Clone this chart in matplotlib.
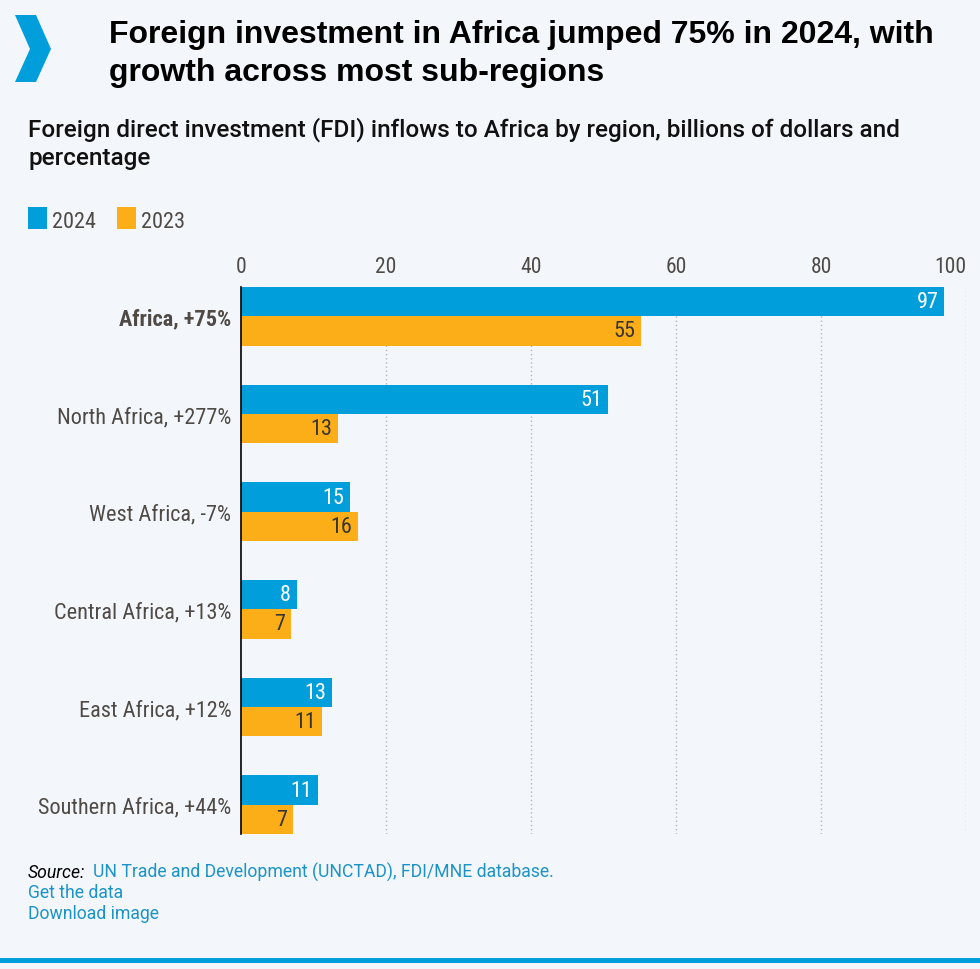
import matplotlib.pyplot as plt
from matplotlib.patches import Polygon
import numpy as np

regions = ["Africa, +75%", "North Africa, +277%", "West Africa, -7%",
           "Central Africa, +13%", "East Africa, +12%", "Southern Africa, +44%"]
fdi_2024 = [97.0, 50.6, 15.0, 7.7, 12.6, 10.6]
fdi_2023 = [55.2, 13.4, 16.1, 6.9, 11.2, 7.2]
xticks = [0, 20, 40, 60, 80, 100]

BLUE = "#009edb"
ORANGE = "#fbae17"
BG = "#f3f7fb"
GREY = "#4f4a46"

W, H = 980, 970
narrow = ["Roboto Condensed", "Archivo Narrow", "DejaVu Sans"]
head = ["Roboto", "DejaVu Sans"]
title_font = ["Liberation Sans", "DejaVu Sans"]

fig = plt.figure(figsize=(W / 100, H / 100), dpi=100, facecolor=BG)


def fx(x):
    return x / W


def fy(y):
    return 1 - y / H


# chevron logo
chev = [(15, 16), (36, 16), (51, 50), (36, 83), (15, 83), (30, 50)]
fig.patches.append(Polygon([(fx(a), fy(b)) for a, b in chev], closed=True,
                           transform=fig.transFigure, facecolor=BLUE, edgecolor="none"))

fig.text(fx(109), fy(43), "Foreign investment in Africa jumped 75% in 2024, with",
         fontsize=23, fontweight="bold", family=title_font, color="black", va="baseline")
fig.text(fx(109), fy(81), "growth across most sub-regions",
         fontsize=23, fontweight="bold", family=title_font, color="black", va="baseline")
fig.text(fx(28), fy(137), "Foreign direct investment (FDI) inflows to Africa by region, billions of dollars and",
         fontsize=17.5, fontweight=500, family=head, color="#111111", va="baseline")
fig.text(fx(28), fy(165), "percentage",
         fontsize=17.5, fontweight=500, family=head, color="#111111", va="baseline")

# legend
for x0, col, lab in [(28, BLUE, "2024"), (117, ORANGE, "2023")]:
    fig.patches.append(plt.Rectangle((fx(x0), fy(230)), fx(19), 22 / H,
                                     transform=fig.transFigure, facecolor=col, edgecolor="none"))
    fig.text(fx(x0 + 24), fy(228), lab, fontsize=16, family=narrow, color=GREY, va="baseline")

# main axes
ax = fig.add_axes([fx(241), fy(835), fx(966) - fx(241), (835 - 288) / H])
ax.set_facecolor(BG)
y = np.arange(len(regions))
h = 0.3
ax.barh(y - h / 2, fdi_2024, height=h, color=BLUE, zorder=2)
ax.barh(y + h / 2, fdi_2023, height=h, color=ORANGE, zorder=2)
for i in range(len(regions)):
    ax.text(fdi_2024[i] - 0.8, y[i] - h / 2, f"{fdi_2024[i]:.0f}", ha="right", va="center",
            fontsize=16, family=narrow, color="white", zorder=3)
    ax.text(fdi_2023[i] - 0.8, y[i] + h / 2, f"{fdi_2023[i]:.0f}", ha="right", va="center",
            fontsize=16, family=narrow, color="#3a3530", zorder=3)

ax.set_xlim(0, 100)
ax.set_ylim(len(regions) - 1 + h, -h)
ax.set_xticks(xticks)
ax.xaxis.tick_top()
ax.tick_params(axis="x", length=0, pad=7, labelsize=15.5, labelcolor=GREY)
for lab in ax.get_xticklabels():
    lab.set_family(narrow)
ax.get_xticklabels()[-1].set_horizontalalignment("right")
ax.set_yticks(y)
ax.set_yticklabels(regions)
ax.tick_params(axis="y", length=0, pad=7, labelsize=16, labelcolor=GREY)
for i, lab in enumerate(ax.get_yticklabels()):
    lab.set_family(narrow)
    if i == 0:
        lab.set_fontweight("bold")
for xv in xticks[1:]:
    ax.axvline(xv, color="#b5b5b5", lw=1, ls=(0, (1, 2)), zorder=1)
for s in ["top", "right", "bottom"]:
    ax.spines[s].set_visible(False)
ax.spines["left"].set_color("black")
ax.spines["left"].set_linewidth(1.2)
ax.spines["left"].set_zorder(4)

# source
fig.text(fx(28), fy(878), "Source:", fontsize=12.7, style="italic", family=head,
         color="black", va="baseline")
fig.text(fx(93), fy(878), "UN Trade and Development (UNCTAD), FDI/MNE database.", fontsize=12.7,
         family=head, color="#1c93c7", va="baseline")
fig.text(fx(28), fy(898), "Get the data", fontsize=12.7, family=head,
         color="#1c93c7", va="baseline")
fig.text(fx(28), fy(919), "Download image", fontsize=12.7, family=head,
         color="#1c93c7", va="baseline")

fig.patches.append(plt.Rectangle((0, fy(964)), 1, 5 / H, transform=fig.transFigure,
                                 facecolor=BLUE, edgecolor="none"))

fig.savefig("out.png", dpi=100, facecolor=BG)
